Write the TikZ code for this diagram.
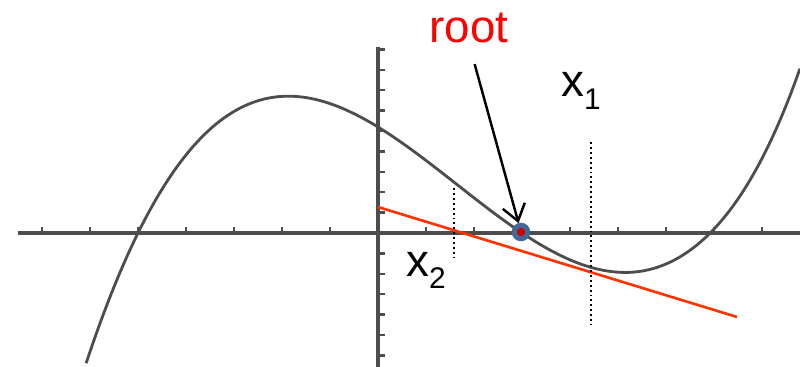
\documentclass[tikz,border=0pt]{standalone}
\usepackage{fontspec}
\setmainfont{Liberation Sans}
\usetikzlibrary{positioning,arrows.meta}
\definecolor{calcgray}{RGB}{77,77,77}
\definecolor{tanred}{RGB}{255,51,0}
\definecolor{ptblue}{RGB}{68,104,150}
\definecolor{ptred}{RGB}{204,0,0}
\newcommand{\xsub}[2]{x\raisebox{-#2}{\fontsize{17}{20}\selectfont #1}}
\tikzset{
  axis/.style={calcgray,line width=2pt},
  tickmark/.style={calcgray,line width=1.3pt},
  fcurve/.style={calcgray,line width=1.6pt,line join=round},
  tangent/.style={tanred,line width=1.5pt},
  guide/.style={black,line width=1.1pt,dash pattern=on 1.1pt off 1.7pt},
  lab/.style={font=\fontsize{26}{30}\selectfont,inner sep=0pt},
  rootpt/.style={circle,fill=ptred,draw=ptblue,line width=2.9pt,minimum size=7.6pt,inner sep=0pt},
  pointer/.style={black,line width=1.4pt,-{Straight Barb[length=9pt,width=13pt]}}
}
\begin{document}
\begin{tikzpicture}[x=0.02cm,y=-0.02cm]
  \useasboundingbox (0,0) rectangle (800,367);
  % axes and ticks
  \draw[axis] (18,233) -- (800,233);
  \draw[axis] (378,47) -- (378,367);
  \foreach \k in {-7,...,-1,1,2,...,8}{\draw[tickmark] (378+48*\k,233) -- ++(0,-6);}
  \foreach \k in {-9,...,-1,1,2,...,6}{\draw[tickmark] (378,233+20.4*\k) -- ++(7,0);}
  % the function, one tick = 48 x 20
  \draw[fcurve] plot[domain=-6.08:8.79,samples=160,variable=\u]
    ({378+48*\u},{233-20*0.05106*(\u+5)*(\u-3)*(\u-6.92)*(1+0.01*max(\u-6,0)^2)});
  % tangent and guides
  \draw[tangent] (378,207) -- (737,317);
  \draw[guide] (454,188) -- (454,258);
  \draw[guide] (591,142) -- (591,325);
  % labels
  \node[rootpt] (root) at (521,232) {};
  \node[lab,text=red,anchor=base] (rootlbl) at (469,43) {root};
  \draw[pointer,shorten <=12pt] (rootlbl.south) -- (root);
  \node[lab,anchor=base west] (xone) at (561,97) {\xsub{1}{7.2pt}};
  \node[lab,anchor=base west] (xtwo) at (406,277) {\xsub{2}{6.3pt}};
\end{tikzpicture}
\end{document}
